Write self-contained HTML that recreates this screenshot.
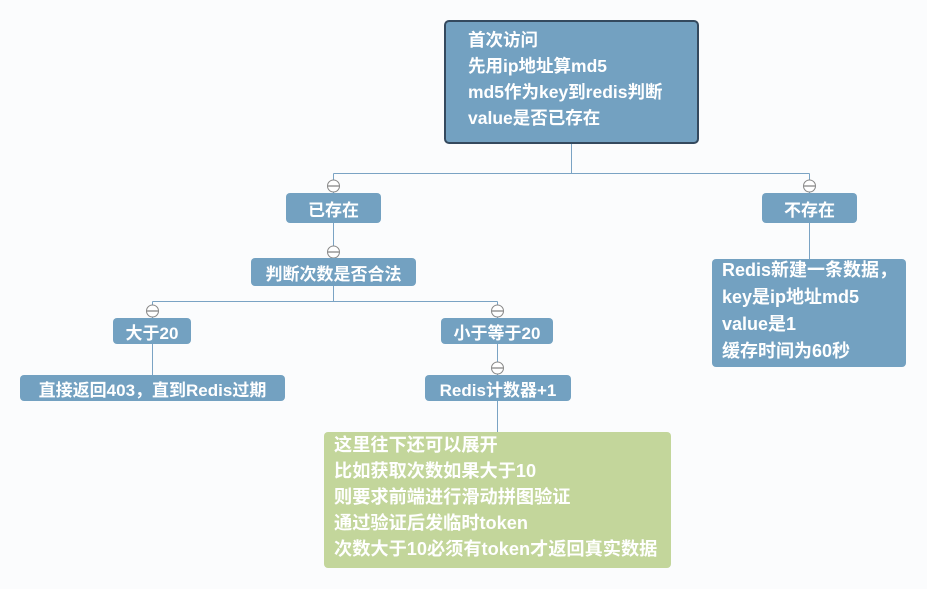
<!DOCTYPE html>
<html><head><meta charset="utf-8"><style>
body{margin:0;width:927px;height:589px;background:#fbfcfd;position:relative;overflow:hidden;font-family:"Liberation Sans","Noto Sans CJK SC",sans-serif;font-weight:bold;color:#fff}
.b{position:absolute;background:#73a1c1;border-radius:4px;font-size:17px;display:flex;align-items:center;justify-content:center;white-space:nowrap}
.t{position:absolute;font-size:17.5px;white-space:nowrap;line-height:26px}
</style></head><body>
<svg width="927" height="589" style="position:absolute;left:0;top:0">
<g stroke="#7aa3c4" stroke-width="1" fill="none">
<path d="M571.5 144V173.5M333.5 173.5H809.5M333.5 173.5V193M809.5 173.5V193"/>
<path d="M333.5 223V258M333.5 286V301.5M152.5 301.5H497.5M152.5 301.5V318M497.5 301.5V318"/>
<path d="M152.5 344V375M497.5 344V375M497.5 401V432M809.5 223V259"/>
</g>
<g fill="#fff" stroke="#888" stroke-width="1">
<circle cx="333.5" cy="186" r="6"/><circle cx="809.5" cy="186" r="6"/><circle cx="333.5" cy="252" r="6"/>
<circle cx="152.5" cy="311" r="6"/><circle cx="497.5" cy="311" r="6"/><circle cx="497.5" cy="368" r="6"/>
</g>
<g stroke="#666" stroke-width="1">
<path d="M328 186H339M804 186H815M328 252H339M147 311H158M492 311H503M492 368H503"/>
</g>
</svg>
<div class="b" style="left:444px;top:20px;width:251px;height:120px;border:2px solid #34495e;border-radius:5px;display:block"></div>
<div class="t" style="left:468px;top:27px">首次访问<br>先用ip地址算md5<br>md5作为key到redis判断<br>value是否已存在</div>
<div class="b" style="left:286px;top:193px;width:95px;height:30px">已存在</div>
<div class="b" style="left:762px;top:193px;width:95px;height:30px">不存在</div>
<div class="b" style="left:251px;top:258px;width:165px;height:28px">判断次数是否合法</div>
<div class="b" style="left:113px;top:318px;width:78px;height:26px">大于20</div>
<div class="b" style="left:441px;top:318px;width:112px;height:26px">小于等于20</div>
<div class="b" style="left:20px;top:375px;width:265px;height:26px">直接返回403，直到Redis过期</div>
<div class="b" style="left:425px;top:375px;width:146px;height:26px">Redis计数器+1</div>
<div class="b" style="left:712px;top:259px;width:194px;height:108px"></div>
<div class="t" style="left:722px;top:257px;line-height:27px;font-size:18px">Redis新建一条数据，<br>key是ip地址md5<br>value是1<br>缓存时间为60秒</div>
<div class="b" style="left:324px;top:432px;width:347px;height:136px;background:#c3d69b"></div>
<div class="t" style="left:334px;top:432px;font-size:18.2px">这里往下还可以展开<br>比如获取次数如果大于10<br>则要求前端进行滑动拼图验证<br>通过验证后发临时token<br>次数大于10必须有token才返回真实数据</div>
</body></html>
